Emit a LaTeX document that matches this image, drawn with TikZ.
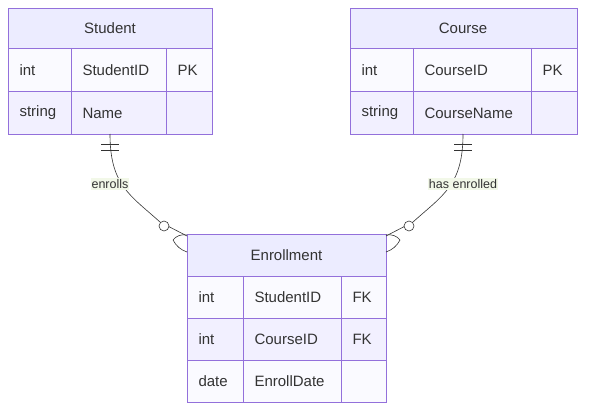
\documentclass[tikz,border=0pt]{standalone}
\usepackage{fontspec}
\setmainfont{Liberation Sans}
\begin{document}
\begin{tikzpicture}[x=1pt,y=-1pt,
  hdr/.style={draw=bd,fill=hd,line width=0.9pt},
  ra/.style={draw=bd,fill=r1,line width=0.9pt},
  rb/.style={draw=bd,fill=r2,line width=0.9pt},
  txt/.style={text=tx,font=\fontsize{15}{17}\selectfont},
  lbl/.style={text=tx,font=\fontsize{12.5}{14}\selectfont,fill=lb,inner sep=1pt},
  rel/.style={draw=tx,line width=0.6pt}]
\definecolor{bd}{HTML}{9370DB}\definecolor{hd}{HTML}{ECECFF}
\definecolor{r1}{HTML}{FAFAFF}\definecolor{r2}{HTML}{F2F0FF}
\definecolor{tx}{HTML}{333333}\definecolor{lb}{HTML}{F2F8E8}
\useasboundingbox (0,0) rectangle (593,417);
% Student
\path[hdr] (8,8) rectangle (212,48);
\node[txt] (stu) at (110,28) {Student};
\path[ra] (8,48) rectangle (212,91); \path[rb] (8,91) rectangle (212,134);
\draw[bd,line width=0.9pt] (71,48)--(71,134) (166,48)--(166,134);
\node[txt,anchor=west] (s1) at (16,70) {int};
\node[txt,anchor=west] (s2) at (79,70) {StudentID};
\node[txt,anchor=west] (s3) at (174,70) {PK};
\node[txt,anchor=west] (s4) at (16,113) {string};
\node[txt,anchor=west] (s5) at (79,113) {Name};
% Course
\path[hdr] (350,8) rectangle (577,48);
\node[txt] (cou) at (463,28) {Course};
\path[ra] (350,48) rectangle (577,91); \path[rb] (350,91) rectangle (577,134);
\draw[bd,line width=0.9pt] (413,48)--(413,134) (531,48)--(531,134);
\node[txt,anchor=west] (c1) at (358,70) {int};
\node[txt,anchor=west] (c2) at (421,70) {CourseID};
\node[txt,anchor=west] (c3) at (539,70) {PK};
\node[txt,anchor=west] (c4) at (358,113) {string};
\node[txt,anchor=west] (c5) at (421,113) {CourseName};
% Enrollment
\path[hdr] (187,234) rectangle (386,276);
\node[txt] (enr) at (286.5,255) {Enrollment};
\path[ra] (187,276) rectangle (386,318); \path[rb] (187,318) rectangle (386,360);
\path[ra] (187,360) rectangle (386,402);
\draw[bd,line width=0.9pt] (243,276)--(243,402) (341,276)--(341,402);
\node[txt,anchor=west] (e1) at (195,297) {int};
\node[txt,anchor=west] (e2) at (251,297) {StudentID};
\node[txt,anchor=west] (e3) at (349,297) {FK};
\node[txt,anchor=west] (e4) at (195,339) {int};
\node[txt,anchor=west] (e5) at (251,339) {CourseID};
\node[txt,anchor=west] (e6) at (349,339) {FK};
\node[txt,anchor=west] (e7) at (195,381) {date};
\node[txt,anchor=west] (e8) at (251,381) {EnrollDate};
% relationships
\coordinate (a0) at (110,134); \coordinate (a1) at (187,236);
\draw[rel] (a0) .. controls (110,185) and (130,195) .. (160,222) -- (a1);
\draw[rel] (101,144)--(119,144) (101,150)--(119,150);
\draw[rel,fill=white] (164,226) circle (5);
\draw[rel] (173,240) .. controls (176,236) and (181,234) .. (187,235);
\draw[rel] (173,240) .. controls (176,246) and (181,250) .. (187,252);
\node[lbl] (l1) at (110,184) {enrolls};
\coordinate (b0) at (463,134); \coordinate (b1) at (386,236);
\draw[rel] (b0) .. controls (463,185) and (443,195) .. (413,222) -- (b1);
\draw[rel] (454,144)--(472,144) (454,150)--(472,150);
\draw[rel,fill=white] (409,226) circle (5);
\draw[rel] (400,240) .. controls (397,236) and (392,234) .. (386,235);
\draw[rel] (400,240) .. controls (397,246) and (392,250) .. (386,252);
\node[lbl] (l2) at (463,184) {has enrolled};
\end{tikzpicture}
\end{document}
